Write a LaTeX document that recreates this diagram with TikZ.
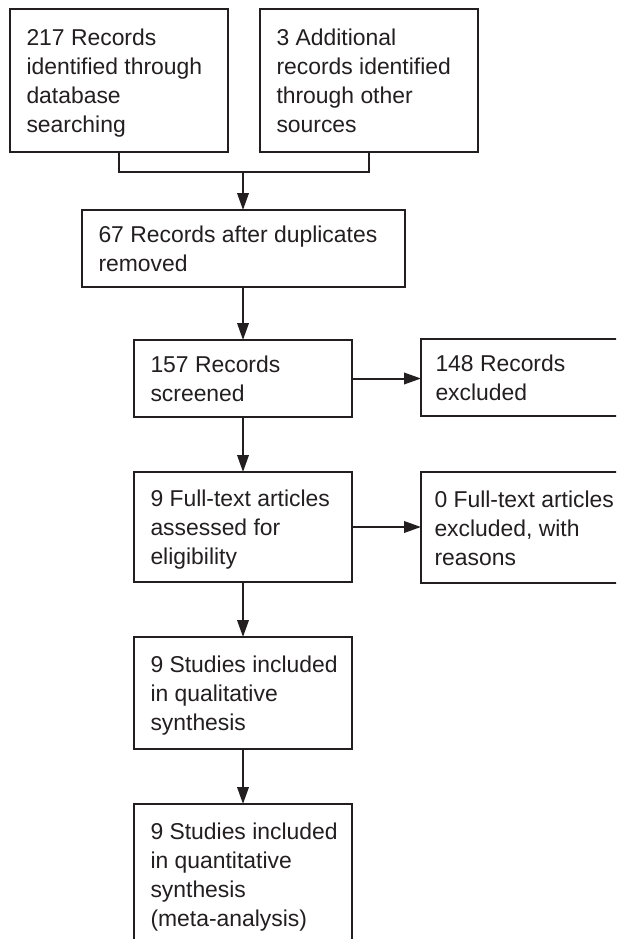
\documentclass[tikz,border=0pt]{standalone}
\usepackage{fontspec}
\setmainfont{Liberation Sans}
\usetikzlibrary{arrows.meta}
\definecolor{ink}{HTML}{231F20}
\newcommand\bxfont{\fontsize{22.9}{29}\selectfont}
\newcommand\bt[3]{\parbox{#1}{\raggedright\leftskip=#2\relax\hyphenpenalty=10000 \rule{0pt}{26.5pt}#3\strut}}
\begin{document}
\begin{tikzpicture}[x=1pt,y=-1pt,
  box/.style={draw=ink, text=ink, line width=2pt, rectangle, anchor=north west,
    minimum width=218pt, minimum height=#1,
    inner xsep=0pt, inner ysep=0pt, outer sep=0pt, font=\bxfont},
  conn/.style={draw=ink, line width=2pt},
  arr/.style={conn, -{Triangle[length=17pt,width=11.5pt]}}]
\useasboundingbox (0,0) rectangle (616,939);
\clip (0,0) rectangle (616,939);
\fill[white] (0,0) rectangle (616,939);
\node[box=143pt] (b1) at (10,9) {\bt{218pt}{16.5pt}{217 Records\\identified through\\database\\searching}};
\node[box=143pt] (b2) at (260,9) {\bt{218pt}{16.5pt}{3 Additional\\records identified\\through other\\sources}};
\node[box=77pt, minimum width=323pt] (b3) at (82,210) {\bt{323pt}{16.5pt}{67 Records after duplicates\\removed}};
\node[box=77pt] (b4) at (134,340) {\bt{218pt}{16.5pt}{157 Records\\screened}};
\node[box=77pt] (b5) at (421,339) {\bt{218pt}{14.5pt}{148 Records\\excluded}};
\node[box=110pt] (b6) at (134,472) {\bt{218pt}{16.5pt}{9 Full-text articles\\assessed for\\eligibility}};
\node[box=111pt] (b7) at (421,472) {\bt{218pt}{13.5pt}{0 Full-text articles\\excluded, with\\reasons}};
\node[box=112pt] (b8) at (134,637) {\bt{218pt}{16.5pt}{9 Studies included\\in qualitative\\synthesis}};
\node[box=141pt] (b9) at (134,804) {\bt{218pt}{16.5pt}{9 Studies included\\in quantitative\\synthesis\\(meta-analysis)}};
\coordinate (j) at (243,172);
\draw[conn] (b1.south) -- (b1.south |- j) -- (b2.south |- j) -- (b2.south);
\draw[arr] (j) -- (j |- b3.north);
\draw[arr] (b3.south -| b4.north) -- (b4.north);
\draw[arr] (b4.east) -- (b4.east -| b5.west);
\draw[arr] (b4.south) -- (b6.north);
\draw[arr] (b6.east) -- (b6.east -| b7.west);
\draw[arr] (b6.south) -- (b8.north);
\draw[arr] (b8.south) -- (b9.north);
\end{tikzpicture}
\end{document}
